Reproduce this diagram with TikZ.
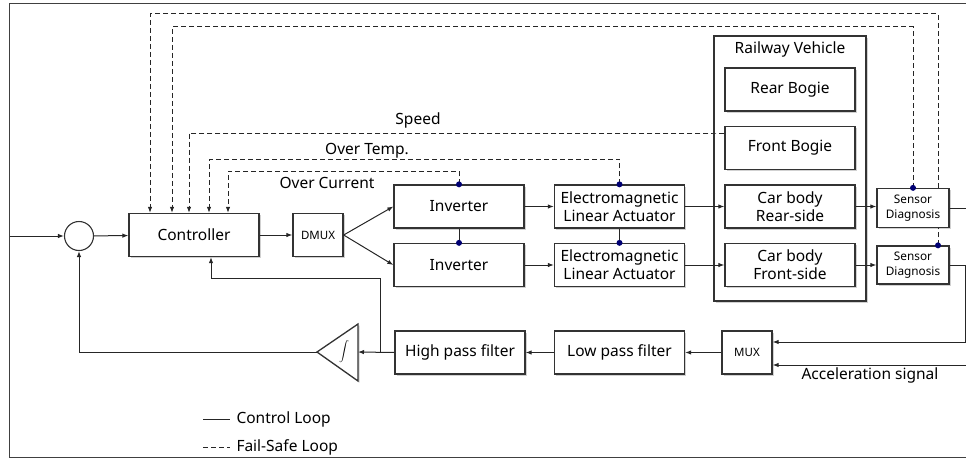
\documentclass[tikz,border=0pt]{standalone}
\usepackage{fontspec}
\setmainfont{Noto Sans}
\usetikzlibrary{positioning,arrows.meta,shadows}

\begin{document}
\begin{tikzpicture}[x=1pt,y=-1pt,
    shd/.style={drop shadow={shadow xshift=1.5pt,shadow yshift=-1.5pt,fill=black!40,opacity=.45}},
    blk/.style={draw=black!80,line width=1.3pt,fill=white,minimum width=130pt,minimum height=43pt,
      align=center,inner sep=1pt,font=\fontsize{15.5}{18}\selectfont,shd},
    smallblk/.style={blk,minimum width=50pt,font=\fontsize{11.5}{13}\selectfont},
    sensorblk/.style={blk,minimum width=72pt,minimum height=39pt,font=\fontsize{11.8}{14.5}\selectfont},
    ln/.style={draw=black!85,line width=1pt},
    arr/.style={ln,-{Latex[length=6pt,width=4.5pt]}},
    dsh/.style={ln,dash pattern=on 5pt off 3pt},
    dsharr/.style={dsh,-{Latex[length=6pt,width=4.5pt]}},
    dotpt/.style={circle,fill=blue!45!black,inner sep=0pt,minimum size=6pt},
    lbl/.style={font=\fontsize{15.5}{18}\selectfont,inner sep=1pt}]
  \useasboundingbox (0,0) rectangle (966,458);
  \draw[black!75,line width=1pt] (970,3) -- (9,3) -- (9,457) -- (970,457);

  % forward path
  \coordinate (in) at (10,236);
  \node[circle,draw=black!80,line width=1.1pt,minimum size=29pt,inner sep=0pt] (sum) at (79,236) {};
  \node[blk] (ctrl) at (194,235) {Controller};
  \node[smallblk] (dmux) at (318,235) {DMUX};
  \node[blk] (inv1) at (459,206.5) {Inverter};
  \node[blk] (inv2) at (459,265) {Inverter};
  \node[blk] (ema1) at (619.5,206.5) {Electromagnetic\\Linear Actuator};
  \node[blk] (ema2) at (619.5,265) {Electromagnetic\\Linear Actuator};

  % vehicle
  \node[blk,minimum width=152pt,minimum height=265pt] (rv) at (790,168.5) {};
  \node[lbl] (rvl) at (790,49) {Railway Vehicle};
  \node[blk] (rb) at (790,89.5) {Rear Bogie};
  \node[blk] (fb) at (790,148) {Front Bogie};
  \node[blk] (cbr) at (790,206.5) {Car body\\Rear-side};
  \node[blk] (cbf) at (790,265) {Car body\\Front-side};
  \node[sensorblk] (sd1) at (913,208) {Sensor\\Diagnosis};
  \node[sensorblk,minimum height=38pt] (sd2) at (913,265) {Sensor\\Diagnosis};

  % feedback path
  \node[smallblk] (mux) at (747,352.5) {MUX};
  \node[blk] (lpf) at (619.5,352.5) {Low pass filter};
  \node[blk] (hpf) at (460,352.5) {High pass filter};
  \draw[draw=black!80,line width=1.3pt,fill=white,shd] (317,352) -- (358,324) -- (358,381) -- cycle;
  \node (intg) at (344,352) {\fontsize{11}{11}\selectfont$\displaystyle\int$};
  \coordinate (intTip) at (317,352);
  \coordinate (intIn) at (358,352);
  \coordinate (br) at (380,352);
  \coordinate (fbk) at (211,278);
  \coordinate (out1) at (966,208);
  \coordinate (acc) at (966,365);

  \draw[arr] (in) -- (sum);
  \draw[arr] (sum) -- (ctrl);
  \draw[arr] (ctrl) -- (dmux);
  \draw[arr] (dmux.east) -- (inv1.west);
  \draw[arr] (dmux.east) -- (inv2.west);
  \draw[arr] (inv1) -- (ema1);
  \draw[arr] (inv2) -- (ema2);
  \draw[arr] (ema1) -- (cbr);
  \draw[arr] (ema2) -- (cbf);
  \draw[arr] (cbr) -- (sd1.west |- cbr);
  \draw[arr] (cbf) -- (sd2);
  \draw[ln] (sd1.east) -- (out1);
  \draw[ln] (inv1) -- (inv2);
  \draw[ln] (ema1) -- (ema2);

  \draw[arr] (sd2.east) -- ++(16,0) |- ([yshift=10.5pt]mux.east);
  \draw[arr] (acc) -- ([yshift=-12.5pt]mux.east);
  \node[lbl,below=2pt of acc,xshift=-96pt] (accl) {Acceleration signal};
  \draw[arr] (mux) -- (lpf);
  \draw[arr] (lpf) -- (hpf);
  \draw[arr] (hpf.west) -- (intIn);
  \draw[arr] (br) |- (fbk) -- (fbk |- ctrl.south);
  \draw[arr] (intTip) -| (sum.south);

  % fail-safe loops
  \draw[dsharr] (inv1.north) -- ++(0,-13) -| ([xshift=34pt]ctrl.north);
  \draw[dsharr] (ema1.north) -- ++(0,-25) -| ([xshift=15pt]ctrl.north);
  \draw[dsharr] ([yshift=15pt]fb.west) -- ++(-10,0) -| ([xshift=-5pt]ctrl.north);
  \draw[dsharr] (sd1.north) -- ++(0,-161) -| ([xshift=-22pt]ctrl.north);
  \draw[dsh] ([xshift=25pt]sd2.north) -- ([xshift=25pt]sd1.south);
  \draw[dsharr] ([xshift=25pt]sd1.north) -- ++(0,-174) -| ([xshift=-44pt]ctrl.north);
  \node[lbl] (oc) at (327,183) {Over Current};
  \node[lbl] (ot) at (367,151) {Over Temp.};
  \node[lbl] (spd) at (418,120) {Speed};

  \node[dotpt] (p1) at (inv1.north) {};
  \node[dotpt] (p2) at (inv2.north) {};
  \node[dotpt] (p3) at (ema1.north) {};
  \node[dotpt] (p4) at (ema2.north) {};
  \node[dotpt] (p5) at (sd1.north) {};
  \node[dotpt] (p6) at ([xshift=25pt]sd2.north) {};

  % legend
  \coordinate (lg1) at (203,419);
  \coordinate (lg2) at (203,447);
  \draw[ln] (lg1) -- ++(27,0) node[lbl,right=5pt] (lgc) {Control Loop};
  \draw[dsh] (lg2) -- ++(27,0) node[lbl,right=5pt] (lgf) {Fail-Safe Loop};
\end{tikzpicture}
\end{document}
